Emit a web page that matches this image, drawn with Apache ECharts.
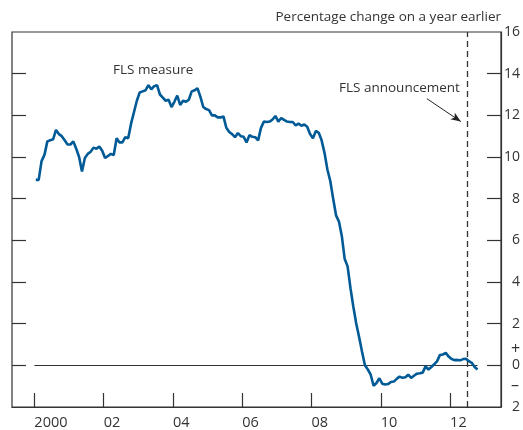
<!DOCTYPE html>
<html>
<head>
<meta charset="utf-8">
<script src="https://cdn.jsdelivr.net/npm/echarts@6/dist/echarts.min.js"></script>
<style>
html,body{margin:0;padding:0;background:#fff;}
#c{width:523px;height:430px;}
</style>
</head>
<body>
<div id="c"></div>
<script>
// Monthly FLS measure, starting January 2000 (percentage change on a year earlier)
var startYear = 2000;
var flsValues = [
  8.9, 8.9, 9.8, 10.1, 10.75, 10.8, 10.85, 11.3, 11.1, 11.0, 10.8, 10.6,
  10.6, 10.75, 10.4, 10.0, 9.3, 9.95, 10.15, 10.25, 10.45, 10.4, 10.5, 10.3,
  9.95, 10.05, 10.15, 10.1, 10.9, 10.7, 10.7, 10.95, 10.9, 11.6, 12.15, 12.7,
  13.1, 13.15, 13.2, 13.45, 13.25, 13.4, 13.45, 13.0, 12.85, 12.7, 12.75, 12.4,
  12.65, 12.95, 12.5, 12.7, 12.65, 12.75, 13.15, 13.2, 13.3, 12.9, 12.4, 12.3,
  12.25, 12.0, 12.0, 11.9, 11.9, 11.95, 11.4, 11.2, 11.1, 10.95, 11.15, 11.0,
  10.97, 10.7, 11.05, 10.97, 10.95, 10.8, 11.4, 11.7, 11.68, 11.7, 11.8, 11.97,
  11.7, 11.87, 11.78, 11.7, 11.68, 11.68, 11.52, 11.6, 11.5, 11.56, 11.45, 11.1,
  10.9, 11.25, 11.16, 10.8, 10.2, 9.4, 8.85, 8.0, 7.2, 6.9, 6.2, 5.1,
  4.75, 3.7, 2.8, 2.0, 1.35, 0.65, 0.0, -0.2, -0.45, -0.98, -0.85, -0.62,
  -0.88, -0.92, -0.9, -0.8, -0.78, -0.65, -0.54, -0.6, -0.57, -0.45, -0.6, -0.5,
  -0.4, -0.38, -0.35, -0.05, -0.2, -0.08, 0.05, 0.2, 0.5, 0.52, 0.6, 0.42,
  0.3, 0.25, 0.26, 0.24, 0.3, 0.32, 0.2, 0.12, -0.08, -0.2
];
var xTickYears = [2000, 2002, 2004, 2006, 2008, 2010, 2012];
var yTickValues = [-2, 0, 2, 4, 6, 8, 10, 12, 14, 16];
var announcementDate = 2012.5;
var arrowFrom = [2011.33, 12.8];
var arrowTo = [2012.31, 11.7];

var X_MIN = 1999.355, X_MAX = 2013.469;
var seriesData = flsValues.map(function (v, i) {
  return [startYear + (i + 0.5) / 12, v];
});
var lastX = seriesData[seriesData.length - 1][0];

var FONT = '"Open Sans", "Noto Sans", sans-serif';
var TXT = '#333';
var AX = {color: '#333', width: 1.2};

// y-axis tick marks (inside, on both sides), placed through the axis scale
var TICK_YEARS = 14 / 34.72; // tick length expressed in x-axis units
var yTickLines = [];
yTickValues.slice(1, -1).forEach(function (v) {
  yTickLines.push([{coord: [X_MIN, v], lineStyle: {color: '#333', width: 1.2, type: 'solid'}}, {coord: [X_MIN + TICK_YEARS, v]}]);
  yTickLines.push([{coord: [X_MAX - TICK_YEARS, v], lineStyle: {color: '#333', width: 1.2, type: 'solid'}}, {coord: [X_MAX, v]}]);
});

var chart = echarts.init(document.getElementById('c'), null, {renderer: 'canvas'});
chart.setOption({
  animation: false,
  backgroundColor: '#fff',
  grid: {left: 12, right: 21, top: 32, bottom: 22, show: true, borderColor: '#333', borderWidth: 1.2, backgroundColor: 'transparent'},
  xAxis: {
    type: 'value', min: X_MIN, max: X_MAX,
    axisLine: {show: true, onZero: false, lineStyle: AX},
    splitLine: {show: false},
    axisTick: {show: true, inside: true, length: 14, customValues: xTickYears, lineStyle: AX},
    axisLabel: {
      customValues: xTickYears, align: 'left', margin: 8, color: TXT, fontFamily: FONT, fontSize: 14.5,
      formatter: function (v) { return v === 2000 ? '2000' : String(v).slice(2); }
    }
  },
  yAxis: [
    {
      type: 'value', position: 'right', min: -2, max: 16, interval: 2,
      axisLine: {show: true, onZero: false, lineStyle: AX}, splitLine: {show: false},
      axisTick: {show: false},
      axisLabel: {
        customValues: yTickValues,
        align: 'right', margin: 19, color: TXT, fontFamily: FONT, fontSize: 14,
        formatter: function (v) { return String(Math.abs(v)); }
      }
    }
  ],
  series: [
    {
      type: 'line', data: seriesData, yAxisIndex: 0, showSymbol: false, symbol: 'none',
      lineStyle: {color: '#005a96', width: 2.6}, z: 5,
      markLine: {
        silent: true, symbol: 'none', animation: false,
        label: {show: false},
        data: [
          [{coord: [2000, 0], lineStyle: {color: '#333', width: 1.2, type: 'solid'}}, {coord: [lastX, 0]}],
          {xAxis: announcementDate, lineStyle: {color: '#333', width: 1.3, type: [6, 4]}},
          [{coord: arrowFrom, symbol: 'none', lineStyle: {color: '#222', width: 1, type: 'solid'}},
           {coord: arrowTo, symbol: 'arrow', symbolSize: [6, 10]}]
        ].concat(yTickLines)
      }
    }
  ],
  graphic: [
    {type: 'text', right: 22, top: 10, style: {text: 'Percentage change on a year earlier', fill: TXT, font: '13.5px ' + FONT}},
    {type: 'text', left: 113, top: 63, style: {text: 'FLS measure', fill: TXT, font: '13.5px ' + FONT}},
    {type: 'text', left: 339, top: 81, style: {text: 'FLS announcement', fill: TXT, font: '13.5px ' + FONT}},
    {type: 'text', left: 511, top: 341, style: {text: '+', fill: TXT, font: '16px ' + FONT}},
    {type: 'text', left: 511, top: 377, style: {text: '\u2013', fill: TXT, font: '16px ' + FONT}}
  ]
});
</script>
</body>
</html>
